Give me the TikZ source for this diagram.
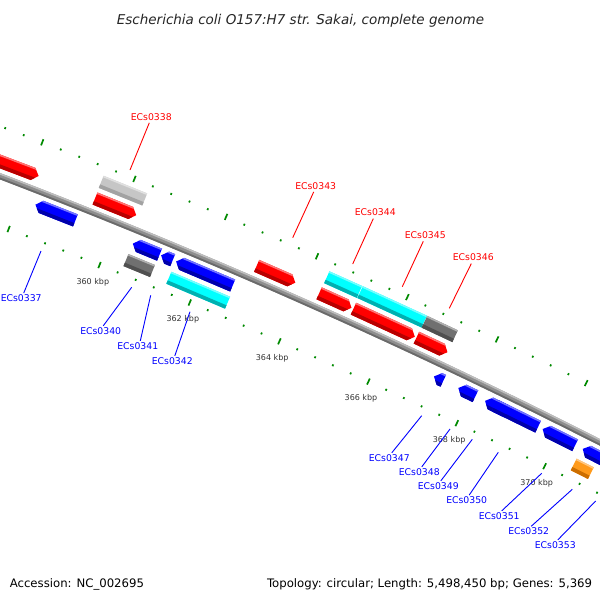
\documentclass[tikz,border=0pt]{standalone}
\usepackage{fontspec}
\setmainfont{DejaVu Sans}
\definecolor{tickg}{HTML}{008A00}
\definecolor{gred}{HTML}{FF0000}
\definecolor{gredd}{HTML}{B80000}
\definecolor{gblue}{HTML}{0000FF}
\definecolor{gblued}{HTML}{0000AA}
\definecolor{gcyan}{HTML}{00FFFF}
\definecolor{gcyand}{HTML}{00B0B0}
\definecolor{glgrey}{HTML}{C6C6C6}
\definecolor{glgreyd}{HTML}{A2A2A2}
\definecolor{gdgrey}{HTML}{707070}
\definecolor{gdgreyd}{HTML}{505050}
\definecolor{gorange}{HTML}{FF9A1A}
\definecolor{goranged}{HTML}{CC6E00}
\definecolor{bbmid}{HTML}{8E8E8E}
\definecolor{bblight}{HTML}{BDBDBD}
\definecolor{bbdark}{HTML}{6A6A6A}
\newcommand\bbpos[1]{%
  \pgfmathsetmacro\bx{298.1+0.9145*(#1)-0.3212*((#1)/100)*((#1)/100)}%
  \pgfmathsetmacro\by{299.1+0.4047*(#1)+0.7258*((#1)/100)*((#1)/100)}%
  \pgfmathsetmacro\bphi{23.87+0.009095*(#1)}}
\newcommand\gene[6]{%
  \pgfmathsetmacro\gm{((#1)+(#2))/2}%
  \bbpos{\gm}%
  \pgfmathsetmacro\gL{((#2)-(#1))/2}%
  \begin{scope}[shift={(\bx,\by)},rotate=-\bphi,y=1pt]
    \ifcase#6\relax
      \clip (-\gL,#3-6.5) rectangle (\gL,#3+6.5);
    \or
      \clip (-\gL,#3-6.5) -- (\gL-6,#3-6.5) -- (\gL,#3) -- (\gL-6,#3+6.5) -- (-\gL,#3+6.5) -- cycle;
    \or
      \clip (\gL,#3-6.5) -- (-\gL+6,#3-6.5) -- (-\gL,#3) -- (-\gL+6,#3+6.5) -- (\gL,#3+6.5) -- cycle;
    \fi
    \fill[#4] (-\gL-1,#3-7) rectangle (\gL+1,#3+7);
    \fill[#5] (-\gL-1,#3-7) rectangle (\gL+1,#3-2.8);
    \fill[#4!55!white] (-\gL-1,#3+4.9) rectangle (\gL+1,#3+7);
  \end{scope}}
\tikzset{
  tickline/.style={draw=tickg, line width=1.7pt},
  ticklab/.style={font=\fontsize{8}{9}\selectfont, text=black!80, inner sep=0pt, text height=5.8pt, text depth=0pt},
  rlab/.style={font=\fontsize{9.3}{11}\selectfont, text=gred, inner sep=2.4pt},
  blab/.style={font=\fontsize{9.3}{11}\selectfont, text=gblue, inner sep=1.2pt},
  rline/.style={draw=gred, line width=0.9pt},
  bline/.style={draw=gblue, line width=0.9pt},
  foot/.style={font=\fontsize{11.7}{14}\selectfont, text=black, inner sep=0pt},
}
\begin{document}
\begin{tikzpicture}[x=1pt,y=-1pt]
\useasboundingbox (0,0) rectangle (600,600);
\fill[white] (0,0) rectangle (600,600);
\begin{scope}
\clip (0,0) rectangle (600,600);
% ticks
\foreach \k in {-19,...,20}{%
  \pgfmathsetmacro\ts{\k*19.68}%
  \bbpos{\ts}%
  \pgfmathtruncatemacro\km{mod(abs(\k),5)}%
  \begin{scope}[shift={(\bx,\by)},rotate=-\bphi,y=1pt]
    \ifnum\km=0
      \draw[tickline] (0,43.5) -- (0,50.1);
      \draw[tickline] (0,-49.5) -- (0,-42.9);
    \else
      \draw[tickline] (0,45.8) -- (0,47.8);
      \draw[tickline] (0,-47.2) -- (0,-45.2);
    \fi
  \end{scope}}
% backbone
\draw[bbmid, line width=6pt] plot[domain=-360:380, samples=75, variable=\s]
  ({298.1+0.9145*\s-0.3212*(\s/100)*(\s/100)}, {299.1+0.4047*\s+0.7258*(\s/100)*(\s/100)});
\draw[bblight, line width=1.6pt] plot[domain=-360:380, samples=75, variable=\s]
  ({298.1+0.9145*\s-0.3212*(\s/100)*(\s/100)+2.2*sin(23.87+0.009095*\s)}, {299.1+0.4047*\s+0.7258*(\s/100)*(\s/100)-2.2*cos(23.87+0.009095*\s)});
\draw[bbdark, line width=1.8pt] plot[domain=-360:380, samples=75, variable=\s]
  ({298.1+0.9145*\s-0.3212*(\s/100)*(\s/100)-2.1*sin(23.87+0.009095*\s)}, {299.1+0.4047*\s+0.7258*(\s/100)*(\s/100)+2.1*cos(23.87+0.009095*\s)});
% forward strand, slot 1
\gene{-400}{-286.2}{13.8}{gred}{gredd}{1}
\gene{-226}{-181.5}{13.8}{gred}{gredd}{1}
\gene{-51.3}{-9.1}{13.8}{gred}{gredd}{1}
\gene{16.8}{52.3}{13.8}{gred}{gredd}{1}
\gene{54.3}{121.8}{13.8}{gred}{gredd}{1}
\gene{123.5}{157.8}{13.8}{gred}{gredd}{1}
% forward strand, slot 2
\gene{-226.5}{-179.5}{31.6}{glgrey}{glgreyd}{0}
\gene{17.2}{53}{31.6}{gcyan}{gcyand}{0}
\gene{53.4}{124}{31.6}{gcyan}{gcyand}{0}
\gene{124}{157.9}{31.6}{gdgrey}{gdgreyd}{0}
% reverse strand, slot 1
\gene{-279}{-236}{-13.8}{gblue}{gblued}{2}
\gene{-174}{-145}{-13.8}{gblue}{gblued}{2}
\gene{-143.3}{-130.7}{-13.8}{gblue}{gblued}{2}
\gene{-127}{-65.5}{-13.8}{gblue}{gblued}{2}
\gene{155.9}{166.2}{-13.8}{gblue}{gblued}{2}
\gene{182.9}{201.9}{-13.8}{gblue}{gblued}{2}
\gene{212.6}{235}{-13.8}{gblue}{gblued}{2}
\gene{218.9}{271.7}{-13.8}{gblue}{gblued}{2}
\gene{276.8}{313.2}{-13.8}{gblue}{gblued}{2}
\gene{321.6}{420}{-13.8}{gblue}{gblued}{2}
% reverse strand, slot 2
\gene{-174}{-145.3}{-31.6}{gdgrey}{gdgreyd}{0}
\gene{-127.3}{-63.5}{-31.6}{gcyan}{gcyand}{0}
\gene{320.6}{339.8}{-31.6}{gorange}{goranged}{0}
% tick labels
\foreach \p in {360,362,...,370}{%
  \pgfmathsetmacro\ts{(\p-364)*49.2}%
  \bbpos{\ts}%
  \begin{scope}[shift={(\bx,\by)},rotate=-\bphi,y=1pt]
    \node[ticklab] (tk\p) at (0,-64) {\p\ kbp};
  \end{scope}}
\end{scope}
% gene labels (forward)
\node[rlab] (l338) at (151.3,116.7) {ECs0338};
\node[rlab] (l343) at (315.7,185.8) {ECs0343};
\node[rlab] (l344) at (375.3,212.5) {ECs0344};
\node[rlab] (l345) at (425.3,235.2) {ECs0345};
\node[rlab] (l346) at (473.3,257.5) {ECs0346};
\coordinate (e338) at (130,170);
\coordinate (e343) at (292.7,237.7);
\coordinate (e344) at (352.7,264);
\coordinate (e345) at (402.3,286.7);
\coordinate (e346) at (449.3,308.3);
\foreach \g in {338,343,344,345,346}{\draw[rline] ([xshift=-2pt]l\g.south) -- (e\g);}
% gene labels (reverse)
\node[blab] (l337) at (21.2,298) {ECs0337};
\node[blab] (l340) at (100.7,330.8) {ECs0340};
\node[blab] (l341) at (137.8,345.8) {ECs0341};
\node[blab] (l342) at (172.3,360.8) {ECs0342};
\node[blab] (l347) at (389.3,457.7) {ECs0347};
\node[blab] (l348) at (419.3,471.7) {ECs0348};
\node[blab] (l349) at (438.3,485.8) {ECs0349};
\node[blab] (l350) at (466.7,500) {ECs0350};
\node[blab] (l351) at (499.2,515.8) {ECs0351};
\node[blab] (l352) at (528.7,531.2) {ECs0352};
\node[blab] (l353) at (555.3,544.8) {ECs0353};
\coordinate (e337) at (41,251);
\coordinate (e340) at (131.7,287.3);
\coordinate (e341) at (150.7,295.3);
\coordinate (e342) at (190,311.7);
\coordinate (e347) at (421.7,415.7);
\coordinate (e348) at (450,429);
\coordinate (e349) at (472.3,439.3);
\coordinate (e350) at (498.3,452.3);
\coordinate (e351) at (541.7,473.3);
\coordinate (e352) at (572.3,489.3);
\coordinate (e353) at (595.7,501);
\foreach \g in {337,340,341,342,347,348,349,350,351,352,353}{\draw[bline] ([xshift=2.5pt]l\g.north) -- (e\g);}
% title and footer
\node[font=\fontsize{13.5}{16}\selectfont\itshape, anchor=base, text=black!85, inner sep=0pt] (title) at (300.5,24.2) {Escherichia coli O157:H7 str. Sakai, complete genome};
\node[foot, anchor=base west] (acc) at (9.6,587.5) {Accession: NC\_002695};
\node[foot, anchor=base east] (topo) at (592.3,587.5) {Topology: circular; Length: 5,498,450 bp; Genes: 5,369};
\end{tikzpicture}
\end{document}
